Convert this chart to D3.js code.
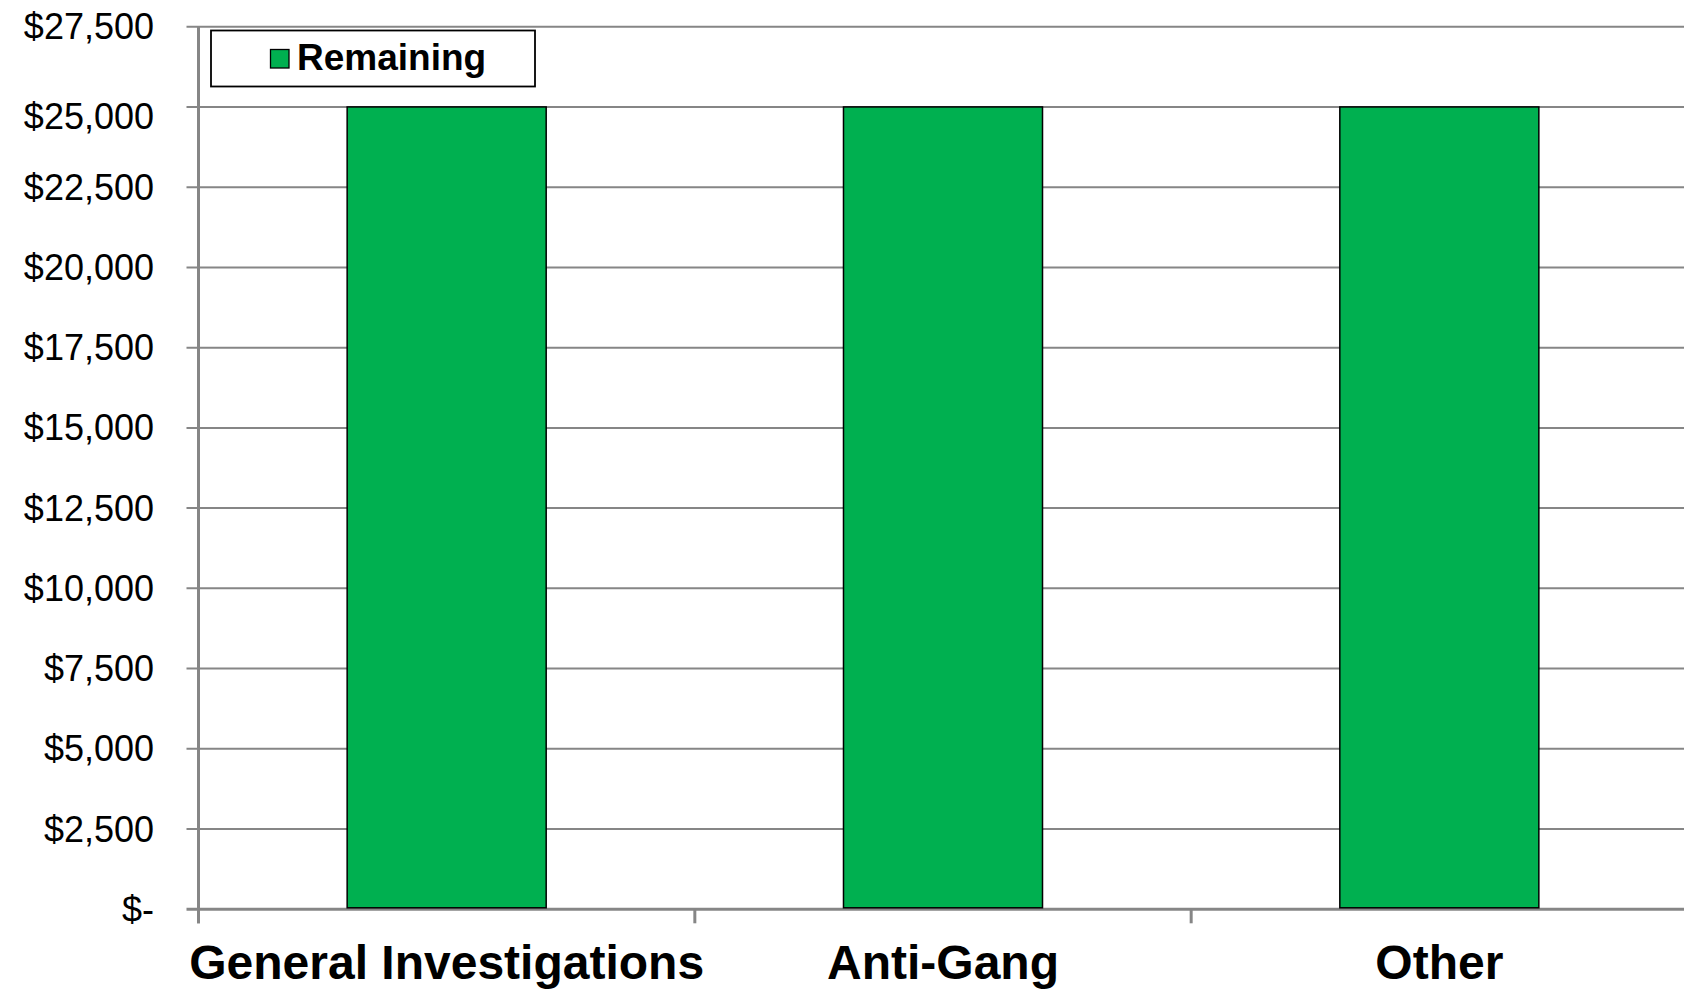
<!DOCTYPE html>
<html>
<head>
<meta charset="utf-8">
<script src="https://cdn.jsdelivr.net/npm/d3@7"></script>
<style>
  html, body { margin: 0; padding: 0; background: #fff; }
  svg { display: block; font-family: "Liberation Sans", Arial, sans-serif; }
</style>
</head>
<body>
<svg id="chart" width="1684" height="992"></svg>
<script>
// chart data
let categories = ["General Investigations", "Anti-Gang", "Other"];
let remaining = [25000, 25000, 25000];
let yTicks = [0, 2500, 5000, 7500, 10000, 12500, 15000, 17500, 20000, 22500, 25000, 27500];
let seriesName = "Remaining";

let svg = d3.select("#chart");

// plot area -- runs a little past the right edge, like the original
let plotLeft = 198.5, plotRight = 1687.5, plotTop = 26.7, plotBottom = 909.3;

let xScale = d3.scaleBand().domain(categories).range([plotLeft, plotRight]).padding(0);
let yScale = d3.scaleLinear().domain([0, 27500]).range([plotBottom, plotTop]);

let fmt = d => d === 0 ? "$-" : "$" + d3.format(",")(d);

// gridlines
svg.append("g")
  .selectAll("line")
  .data(yTicks)
  .join("line")
  .attr("x1", plotLeft - 12)
  .attr("x2", 1684)
  .attr("y1", d => yScale(d))
  .attr("y2", d => yScale(d))
  .attr("stroke", "#868686")
  .attr("stroke-width", d => d === 0 ? 3 : 2);

// y axis line
svg.append("line")
  .attr("x1", plotLeft).attr("x2", plotLeft)
  .attr("y1", plotTop).attr("y2", plotBottom + 14)
  .attr("stroke", "#868686")
  .attr("stroke-width", 3);

// y labels (the 25,000 one sits a bit low in the original)
svg.append("g")
  .selectAll("text")
  .data(yTicks)
  .join("text")
  .attr("x", 154)
  .attr("y", d => yScale(d) + (d === 25000 ? 9 : 0))
  .attr("dy", "0.35em")
  .attr("text-anchor", "end")
  .attr("font-size", 36)
  .attr("fill", "#000")
  .text(fmt);

// x ticks at band edges
let edges = categories.map(c => xScale(c));
svg.append("g")
  .selectAll("line")
  .data(edges)
  .join("line")
  .attr("x1", d => d).attr("x2", d => d)
  .attr("y1", plotBottom).attr("y2", plotBottom + 14)
  .attr("stroke", "#868686")
  .attr("stroke-width", 3);

// bars
let barW = xScale.bandwidth() * 0.401;
svg.append("g")
  .selectAll("rect")
  .data(remaining)
  .join("rect")
  .attr("x", (d, i) => xScale(categories[i]) + (xScale.bandwidth() - barW) / 2)
  .attr("y", d => yScale(d))
  .attr("width", barW)
  .attr("height", d => yScale(0) - yScale(d) - 1.5)
  .attr("fill", "#00B050")
  .attr("stroke", "#000")
  .attr("stroke-width", 1.5);

// category labels
svg.append("g")
  .selectAll("text")
  .data(categories)
  .join("text")
  .attr("x", d => xScale(d) + xScale.bandwidth() / 2)
  .attr("y", 979)
  .attr("text-anchor", "middle")
  .attr("font-size", 48)
  .attr("font-weight", "bold")
  .attr("fill", "#000")
  .text(d => d);

// legend
let legend = svg.append("g");
legend.append("rect")
  .attr("x", 211).attr("y", 30.5)
  .attr("width", 324).attr("height", 56)
  .attr("fill", "#fff")
  .attr("stroke", "#000")
  .attr("stroke-width", 1.8);
legend.append("rect")
  .attr("x", 270.5).attr("y", 49.5)
  .attr("width", 18.5).attr("height", 18.5)
  .attr("fill", "#00B050")
  .attr("stroke", "#000")
  .attr("stroke-width", 1.3);
legend.append("text")
  .attr("x", 297)
  .attr("y", 70)
  .attr("font-size", 37)
  .attr("font-weight", "bold")
  .attr("fill", "#000")
  .text(seriesName);
</script>
</body>
</html>
